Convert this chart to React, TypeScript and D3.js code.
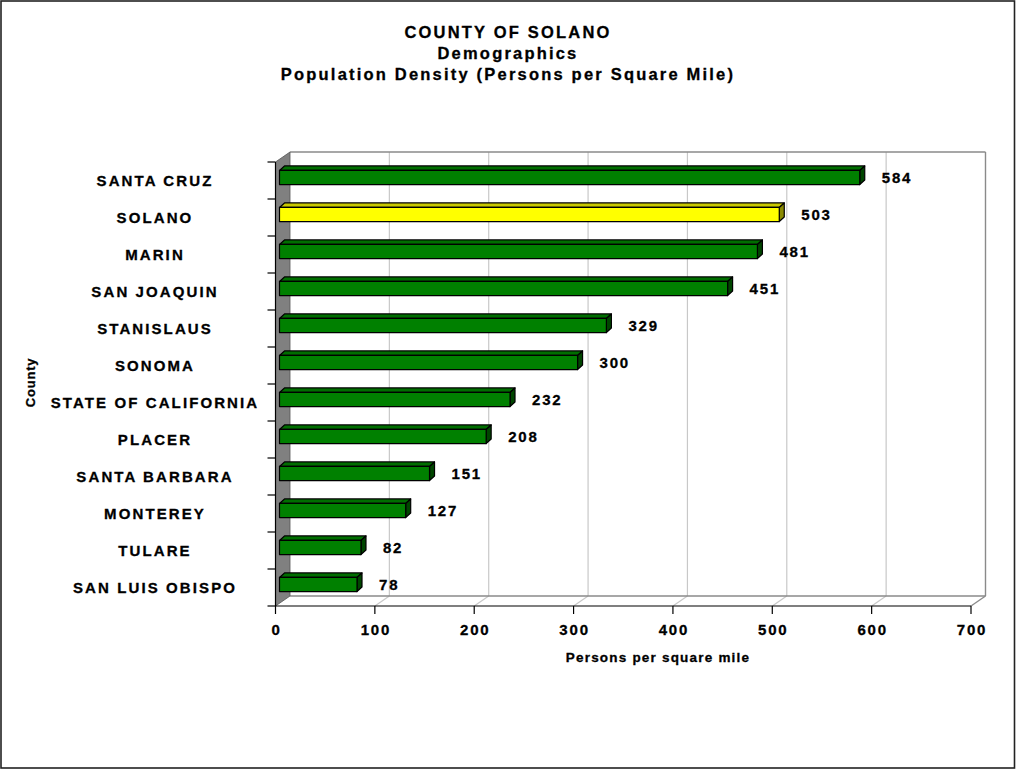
import React from 'react';
import * as d3 from 'd3';

const counties = [
    'SANTA CRUZ', 'SOLANO', 'MARIN', 'SAN JOAQUIN', 'STANISLAUS', 'SONOMA',
    'STATE OF CALIFORNIA', 'PLACER', 'SANTA BARBARA', 'MONTEREY', 'TULARE', 'SAN LUIS OBISPO'
];
const density = [584, 503, 481, 451, 329, 300, 232, 208, 151, 127, 82, 78];
const highlight = 'SOLANO';
const xTicks = [0, 100, 200, 300, 400, 500, 600, 700];
const titleLines = ['COUNTY OF SOLANO', 'Demographics', 'Population Density (Persons per Square Mile)'];

const W = 1016;
const H = 770;
const FONT = '"Liberation Sans", Arial, sans-serif';

export default function App() {
    // front plane of the 3d box
    const left = 275.5;
    const right = 971;
    const top = 162;
    const bottom = 606;
    // depth of the box
    const dx = 14.5;
    const dy = -10;
    // bars sit a little inside the box, with their own depth
    const bx = 4;
    const by = -3;
    const bdx = 5;
    const bdy = -4.5;

    const x = d3.scaleLinear().domain([0, 700]).range([left, right]);
    const y = d3.scaleBand().domain(counties).range([top, bottom]).paddingInner(0.62).paddingOuter(0.31);
    const step = y.step();
    const data = counties.map((c, i) => ({ county: c, value: density[i] }));

    const boundaries = d3.range(counties.length + 1).map((i) => top + i * step);
    const heavy = { stroke: 'black', strokeWidth: 0.3 };

    return (
        <svg width={W} height={H} style={{ display: 'block', position: 'absolute', left: 0, top: 0 }}
            fontFamily={FONT} fontWeight="bold">
            <rect x={1} y={1} width={W - 2.5} height={H - 3} fill="white" stroke="#222" strokeWidth={1.6} />

            {titleLines.map((t, i) => (
                <text key={t} x={508} y={38 + i * 21} textAnchor="middle" fontSize={16.5} letterSpacing={2.2} {...heavy}>{t}</text>
            ))}

            {/* back wall */}
            <rect x={left + dx} y={top + dy} width={right - left} height={bottom - top} fill="white" />
            {xTicks.slice(1, -1).map((v) => (
                <g key={'g' + v} stroke="#c8c8c8" strokeWidth={1.2}>
                    <line x1={x(v) + dx} x2={x(v) + dx} y1={top + dy} y2={bottom + dy} />
                    <line x1={x(v)} x2={x(v) + dx} y1={bottom} y2={bottom + dy} />
                </g>
            ))}
            <g stroke="#8a8a8a" strokeWidth={1.4} fill="none">
                <line x1={left + dx} x2={right + dx} y1={top + dy} y2={top + dy} />
                <line x1={right + dx} x2={right + dx} y1={top + dy} y2={bottom + dy} />
                <line x1={left + dx} x2={right + dx} y1={bottom + dy} y2={bottom + dy} />
                <line x1={right} x2={right + dx} y1={bottom} y2={bottom + dy} />
            </g>

            {/* side wall */}
            <polygon
                points={`${left},${top} ${left + dx},${top + dy} ${left + dx},${bottom + dy} ${left},${bottom}`}
                fill="#808080" stroke="#555" strokeWidth={0.8} />

            {/* axes */}
            <g stroke="black" strokeWidth={1.2}>
                <line x1={left} x2={left} y1={top} y2={bottom} />
                <line x1={left} x2={right} y1={bottom} y2={bottom} />
                {boundaries.map((b) => (
                    <line key={'t' + b} x1={left - 8} x2={left} y1={b} y2={b} />
                ))}
                {xTicks.map((v) => (
                    <line key={'xt' + v} x1={x(v)} x2={x(v)} y1={bottom} y2={bottom + 8} />
                ))}
            </g>

            {/* bars */}
            {data.map((d) => {
                const y0 = y(d.county) + by;
                const h = y.bandwidth();
                const x0 = x(0) + bx;
                const x1 = x(d.value) + bx;
                const hl = d.county === highlight;
                const front = hl ? '#ffff00' : '#008000';
                const topFace = hl ? '#c8c800' : '#006e00';
                const side = hl ? '#8a8a00' : '#004600';
                return (
                    <g key={d.county}>
                        <g stroke="black" strokeWidth={1.2} strokeLinejoin="round">
                            <polygon points={`${x0},${y0} ${x0 + bdx},${y0 + bdy} ${x1 + bdx},${y0 + bdy} ${x1},${y0}`} fill={topFace} />
                            <polygon points={`${x1},${y0} ${x1 + bdx},${y0 + bdy} ${x1 + bdx},${y0 + h + bdy} ${x1},${y0 + h}`} fill={side} />
                            <rect x={x0} y={y0} width={x1 - x0} height={h} fill={front} />
                        </g>
                        <text x={x1 + 22} y={y0 + h / 2 + 5} fontSize={15} letterSpacing={1.8} {...heavy}>{d.value}</text>
                    </g>
                );
            })}

            {/* category labels */}
            {counties.map((c) => (
                <text key={'l' + c} x={155} y={y(c) + y.bandwidth() / 2 + 5.5} textAnchor="middle" fontSize={15} letterSpacing={2.1} {...heavy}>{c}</text>
            ))}

            {xTicks.map((v) => (
                <text key={'xl' + v} x={x(v) + 1} y={635} textAnchor="middle" fontSize={15} letterSpacing={1.8} {...heavy}>{v}</text>
            ))}

            <text x={658} y={662} textAnchor="middle" fontSize={13.5} letterSpacing={1.2} {...heavy}>Persons per square mile</text>
            <text transform="translate(35,382.5) rotate(-90)" textAnchor="middle" fontSize={13} letterSpacing={0.8} {...heavy}>County</text>
        </svg>
    );
}
